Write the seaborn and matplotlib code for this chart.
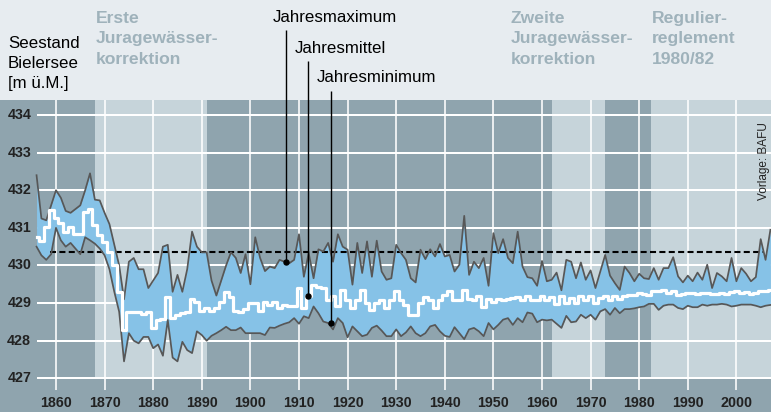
"""
Seestand Bielersee 1856-2007: Jahresmaximum, Jahresmittel und Jahresminimum
mit den Phasen der Juragewässerkorrektionen im Hintergrund.
"""

import numpy as np
import matplotlib
matplotlib.use('Agg')
import matplotlib.pyplot as plt
import seaborn as sns

# --- Data (m ü.M.) ---
years = np.arange(1856, 2008)

level_max = [
    432.4, 431.25, 431.2, 431.6, 432.0, 431.8, 431.45, 431.4, 431.5, 431.6,
    432.0, 432.45, 431.75, 431.73, 431.4, 431.1, 430.55, 430.0, 429.1, 430.1,
    430.2, 429.9, 429.9, 429.4, 429.6, 429.8, 430.5, 430.55, 429.3, 429.75,
    429.3, 429.9, 430.9, 430.5, 430.35, 430.35, 429.6, 429.2, 429.6, 430.0,
    430.35, 430.2, 429.8, 430.3, 429.5, 430.75, 430.2, 429.85,
    429.97, 429.93, 430.15, 430.1, 430.06, 430.15, 430.83, 429.7, 430.33, 429.66,
    430.43, 430.37, 430.6, 430.1, 430.83, 430.5, 430.42, 429.49, 430.6, 429.8,
    430.64, 429.7, 430.66, 429.84, 429.62, 429.66, 430.55, 430.33, 430.15, 429.66,
    429.55, 430.42, 430.17, 430.43, 430.24, 430.57, 430.24, 430.28, 429.84, 430.02,
    431.32, 429.75, 430.1, 429.93, 430.2, 429.46, 430.86, 430.33, 430.7, 430.2, 430.06,
    430.9, 429.97, 429.69, 429.66, 429.46, 430.12, 429.58, 429.62, 429.81, 429.34,
    430.15, 430.1, 429.66, 430.08, 429.62, 429.87, 429.4, 429.84, 430.28, 429.73,
    429.53, 429.35, 429.97, 429.8, 429.58, 429.78, 429.66, 429.64, 429.93, 429.62,
    429.93, 429.93, 430.22, 429.71, 429.55, 429.73, 429.58, 429.81, 429.62, 430.02,
    429.4, 429.8, 429.71, 429.58, 430.2, 429.58, 429.93, 429.78, 429.58, 429.69,
    430.7, 430.15, 430.95,
]

level_mean = [
    430.76, 430.65, 431.03, 431.47, 431.25, 431.12, 430.9, 431.03, 430.85, 430.85,
    431.42, 431.51, 431.07, 430.8, 430.63, 430.36, 430.0, 429.3, 428.28, 428.77,
    428.77, 428.77, 428.72, 428.77, 428.33, 428.55, 428.57, 429.17, 428.6, 428.67,
    428.73, 428.77, 429.12, 429.03, 428.8, 428.87, 428.8, 428.87, 429.03, 429.3,
    429.17, 428.8, 428.75, 428.85, 429.0, 429.0, 428.8, 429.03,
    428.96, 429.04, 428.87, 428.96, 428.93, 428.91, 429.4, 428.87, 429.18, 429.49,
    429.42, 429.4, 429.09, 429.18, 428.91, 429.35, 429.09, 428.87, 429.09, 429.35,
    429.0, 428.82, 429.0, 429.09, 428.87, 429.09, 429.31, 429.09, 428.96, 428.69,
    428.69, 429.0, 429.15, 429.09, 428.87, 429.09, 429.22, 429.31, 429.09, 429.09,
    429.34, 429.11, 429.09, 429.18, 428.89, 429.11, 429.04, 429.11, 429.09, 429.11, 429.13,
    429.15, 429.09, 429.18, 429.09, 429.09, 429.18, 429.09, 429.15, 428.98, 429.18,
    429.0, 429.13, 429.0, 429.18, 429.07, 429.18, 429.0, 429.13, 429.18, 429.09,
    429.18, 429.11, 429.18, 429.22, 429.22, 429.27, 429.25, 429.22, 429.31, 429.31,
    429.35, 429.28, 429.31, 429.22, 429.24, 429.28, 429.27, 429.24, 429.27, 429.28,
    429.25, 429.23, 429.27, 429.24, 429.29, 429.31, 429.27, 429.29, 429.25, 429.27,
    429.31, 429.31, 429.34,
]

level_min = [
    430.5, 430.27, 430.15, 430.3, 431.0, 430.67, 430.5, 430.6, 430.45, 430.3,
    430.75, 430.67, 430.58, 430.45, 430.27, 429.9, 429.3, 428.77, 427.45, 428.2,
    428.0, 427.93, 428.1, 428.1, 427.8, 427.9, 427.6, 428.55, 427.55, 427.45,
    427.97, 427.75, 427.67, 428.25, 428.15, 428.0, 428.13, 428.2, 428.28, 428.37,
    428.28, 428.28, 428.35, 428.2, 428.2, 428.2, 428.2, 428.15,
    428.35, 428.34, 428.4, 428.45, 428.49, 428.6, 428.45, 428.65, 428.6, 428.91,
    428.73, 428.51, 428.47, 428.3, 428.6, 428.47, 428.09, 428.38, 428.25, 428.12,
    428.16, 428.34, 428.4, 428.27, 428.12, 428.12, 428.3, 428.12, 428.22, 428.38,
    428.2, 428.12, 428.2, 428.38, 428.42, 428.25, 428.13, 428.1, 428.36, 428.2,
    428.04, 428.3, 428.34, 428.25, 428.12, 428.47, 428.3, 428.42, 428.56, 428.6, 428.42,
    428.6, 428.49, 428.75, 428.72, 428.49, 428.56, 428.54, 428.56, 428.45, 428.34,
    428.66, 428.49, 428.51, 428.69, 428.6, 428.69, 428.56, 428.78, 428.84, 428.69,
    428.87, 428.73, 428.84, 428.84, 428.86, 428.89, 428.91, 428.98, 428.98, 428.82,
    428.93, 428.96, 428.96, 428.87, 428.84, 428.93, 428.89, 428.89, 428.96, 428.93,
    428.96, 428.96, 428.98, 428.96, 428.91, 428.93, 428.96, 428.96, 428.96, 428.93,
    428.89, 428.93, 428.95,
]

y_ticks = [427, 428, 429, 430, 431, 432, 433, 434]
x_ticks = list(range(1860, 2001, 10))
light_periods = [(1868, 1891), (1962, 1973), (1982.5, 2010)]
reference_level = 430.35

# label, year, level, top of the pointer line
pointers = [
    ("Jahresmaximum", 1907.3, 430.10, 436.25),
    ("Jahresmittel", 1911.85, 429.18, 435.45),
    ("Jahresminimum", 1916.5, 428.47, 434.65),
]

# --- Colours ---
TOP_BG = "#e7ecf0"
DARK = "#8fa4ae"
LIGHT = "#c6d4da"
BLUE = "#86c2e7"
LINE = "#575757"
HEAD = "#9fb2bb"

W, H = 771, 412
XLIM = (1848.48, 2007.12)
YLIM = (426.104, 434.40)

plt.rcParams['font.family'] = ['Liberation Sans', 'DejaVu Sans']

fig = plt.figure(figsize=(W / 100, H / 100), dpi=100, facecolor=TOP_BG)
ax = fig.add_axes([0, 0, 1, 312 / H])
ax.set_facecolor(DARK)
for s in ax.spines.values():
    s.set_visible(False)
ax.set_xticks([])
ax.set_yticks([])

# phases in the background
band_bottom = (427 - YLIM[0]) / (YLIM[1] - YLIM[0])
for x0, x1 in light_periods:
    ax.axvspan(x0, x1, ymin=band_bottom, ymax=1, color=LIGHT, lw=0, zorder=0)

# grid
ax.hlines(y_ticks, 1856.05, XLIM[1], colors="white", lw=1.45, zorder=1)
ax.vlines(x_ticks, 426.69, YLIM[1], colors="white", lw=1.15, zorder=1)

# range between min and max
ax.fill_between(years, level_min, level_max, color=BLUE, lw=0, zorder=2)
ax.hlines(reference_level, 1858.8, 2005.5, colors="black",
          linestyles=(0, (2.9, 1.6)), lw=1.5, zorder=3)
sns.lineplot(x=years, y=level_max, color=LINE, lw=1.25, ax=ax, zorder=4)
sns.lineplot(x=years, y=level_min, color=LINE, lw=1.25, ax=ax, zorder=4)
sns.lineplot(x=years, y=level_mean, color="white", lw=2.3,
             drawstyle="steps-mid", ax=ax, zorder=5)

ax.set_xlim(*XLIM)
ax.set_ylim(*YLIM)
ax.set_xlabel("")
ax.set_ylabel("")

# tick labels drawn inside the dark frame
tick_kw = dict(fontsize=10.3, fontweight="bold", color="#222222")
for v in y_ticks:
    ax.text(1854.9, v - 0.106, str(v), ha="right", va="baseline", **tick_kw)
for yr in x_ticks:
    ax.text(yr, 426.229, str(yr), ha="center", va="baseline", **tick_kw)

# pointers to the three series
for label, yr, lvl, top in pointers:
    ax.vlines(yr, lvl, top, colors="black", lw=1.0, zorder=6, clip_on=False)
    ax.plot(yr, lvl, "o", color="black", ms=3.6, zorder=7, clip_on=False)


def px(x, y):
    return x / W, 1 - y / H


label_kw = dict(fontsize=12.2, color="black", va="baseline")
fig.text(*px(273, 22), "Jahresmaximum", **label_kw)
fig.text(*px(295, 52.7), "Jahresmittel", **label_kw)
fig.text(*px(317, 82), "Jahresminimum", **label_kw)

for i, line in enumerate(["Seestand", "Bielersee", "[m ü.M.]"]):
    fig.text(*px(8, 48.3 + 20 * i), line, **label_kw)

head_kw = dict(fontsize=12.6, fontweight="bold", color=HEAD, va="baseline")
headers = [
    (96, ["Erste", "Juragewässer-", "korrektion"]),
    (510.7, ["Zweite", "Juragewässer-", "korrektion"]),
    (652, ["Regulier-", "reglement", "1980/82"]),
]
for x, lines in headers:
    for i, line in enumerate(lines):
        fig.text(*px(x, 22.7 + 20.8 * i), line, **head_kw)

fig.text(*px(764, 161), "Vorlage: BAFU", fontsize=8.5, color="#222222",
         rotation=90, ha="center", va="center")

fig.savefig("out.png", dpi=100, facecolor=TOP_BG)
plt.close(fig)
